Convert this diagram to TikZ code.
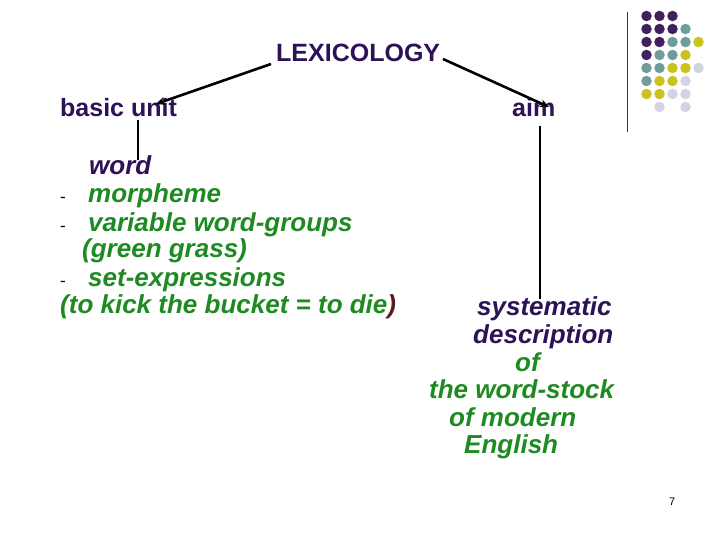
\documentclass[tikz,border=0pt]{standalone}
\usepackage{fontspec}
\setmainfont{Liberation Sans}
\usetikzlibrary{arrows.meta}
\definecolor{tpurple}{HTML}{2E1258}
\definecolor{tgreen}{HTML}{1E8A22}
\definecolor{tbrown}{HTML}{5C1A1A}
\definecolor{dpurple}{HTML}{40215E}
\definecolor{dteal}{HTML}{6F9D9B}
\definecolor{dyellow}{HTML}{C9C21F}
\definecolor{dlav}{HTML}{D3D3E3}
\begin{document}
\begin{tikzpicture}[x=1pt,y=-1pt,
  txt/.style={anchor=base west,inner sep=0pt,font=\fontsize{25}{30}\selectfont\bfseries},
  itxt/.style={anchor=base west,inner sep=0pt,font=\fontsize{26}{30}\selectfont\bfseries\itshape},
  dashmark/.style={anchor=base west,inner sep=0pt,font=\fontsize{17}{18}\selectfont,text=black},
  conn/.style={line width=2.6pt,black},
  arr/.style={conn,-{Stealth[length=9pt,width=8pt]}},
  dot/.style={circle,inner sep=0pt,minimum size=10.5pt}]
\useasboundingbox (0,0) rectangle (720,540);
\fill[white] (0,0) rectangle (720,540);

% decoration
\draw[line width=1pt,black!80] (627,12) -- (627,132);
\foreach \c/\x/\y in {dpurple/1/1,dpurple/2/1,dpurple/3/1,
  dpurple/1/2,dpurple/2/2,dpurple/3/2,dteal/4/2,
  dpurple/1/3,dpurple/2/3,dteal/3/3,dteal/4/3,dyellow/5/3,
  dpurple/1/4,dteal/2/4,dteal/3/4,dyellow/4/4,
  dteal/1/5,dteal/2/5,dyellow/3/5,dyellow/4/5,dlav/5/5,
  dteal/1/6,dyellow/2/6,dyellow/3/6,dlav/4/6,
  dyellow/1/7,dyellow/2/7,dlav/3/7,dlav/4/7,
  dlav/2/8,dlav/4/8}
  \node[dot,fill=\c] at ({633.5+13*\x},{3+13*\y}) {};

% texts
\node[txt,text=tpurple] (lex) at (276,62) {LEXICOLOGY};
\node[txt,text=tpurple] (bu) at (60,117) {basic unit};
\node[txt,text=tpurple] (aim) at (512,117) {aim};

\node[itxt,text=tpurple] (w1) at (89,175) {word};
\node[itxt,text=tgreen] (w2) at (88,203) {morpheme};
\node[itxt,text=tgreen] (w3) at (88,231) {variable word-groups};
\node[itxt,text=tgreen] (w4) at (82,258) {(green grass)};
\node[itxt,text=tgreen] (w5) at (88,286) {set-expressions};
\node[itxt,text=tgreen] (w6) at (60,313) {(to kick the bucket = to die\textcolor{tbrown}{)}};
\node[dashmark] (d2) at (60,203) {-};
\node[dashmark] (d3) at (60,231) {-};
\node[dashmark] (d5) at (60,286) {-};

\node[itxt,text=tpurple] (s1) at (477,315) {systematic};
\node[itxt,text=tpurple] (s2) at (473,343) {description};
\node[itxt,text=tgreen] (s3) at (515,371) {of};
\node[itxt,text=tgreen] (s4) at (429,398) {the word-stock};
\node[itxt,text=tgreen] (s5) at (449,426) {of modern};
\node[itxt,text=tgreen] (s6) at (464,453) {English};

\node[anchor=base west,inner sep=0pt,font=\fontsize{11}{13}\selectfont] (pg) at (669,505) {7};

% connector end points
\coordinate (lexL) at (271,64);
\coordinate (lexR) at (443,59);
\coordinate (buTip) at (156,104);
\coordinate (aimTip) at (549,107);
\coordinate (buBot) at (138,120);
\coordinate (wTop) at (138,160);
\coordinate (aimBot) at (540,126);
\coordinate (sTop) at (540,299);

\draw[arr] (lexL) -- (buTip);
\draw[arr] (lexR) -- (aimTip);
\draw[conn,line width=2.2pt] (buBot) -- (wTop);
\draw[conn,line width=2.2pt] (aimBot) -- (sTop);
\end{tikzpicture}
\end{document}
